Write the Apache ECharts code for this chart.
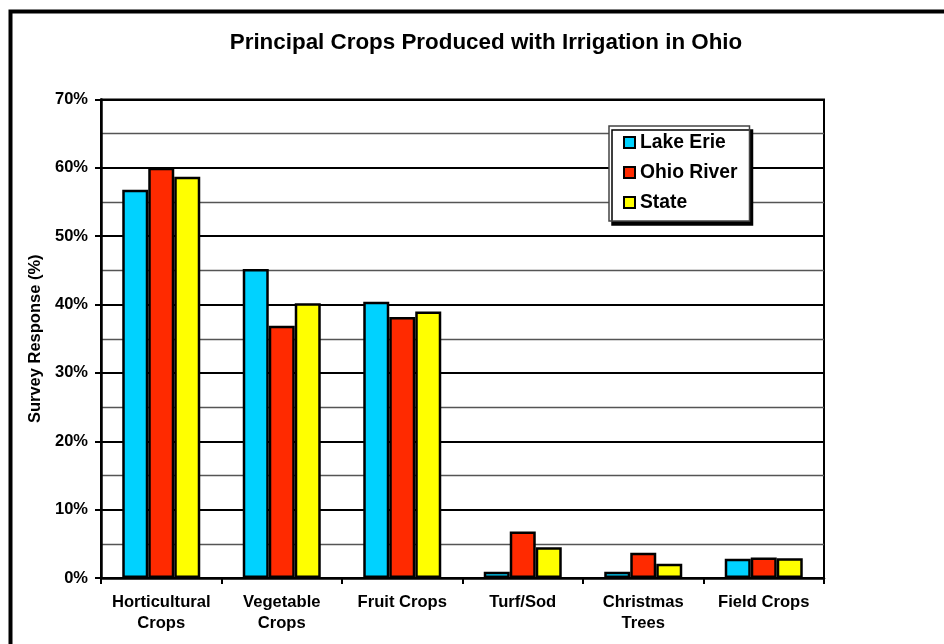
<!DOCTYPE html>
<html>
<head>
<meta charset="utf-8">
<script src="https://cdn.jsdelivr.net/npm/echarts@6/dist/echarts.min.js"></script>
<style>
  html, body { margin: 0; padding: 0; background: #fff; }
  #chart { width: 944px; height: 644px; }
</style>
</head>
<body>
<div id="chart"></div>
<script>
// Crop categories (two-line labels where the text wraps)
const categories = ['Horticultural\nCrops', 'Vegetable\nCrops', 'Fruit Crops', 'Turf/Sod', 'Christmas\nTrees', 'Field Crops'];
// Survey response shares (%) by region
const lakeErie  = [56.8, 45.2, 40.4, 0.9, 0.9, 2.8];
const ohioRiver = [60.0, 36.9, 38.2, 6.8, 3.7, 3.0];
const stateAll  = [58.7, 40.2, 39.0, 4.5, 2.1, 2.9];
const seriesNames = ['Lake Erie', 'Ohio River', 'State'];
const yTicks = [0, 10, 20, 30, 40, 50, 60, 70];

const FONT = '"Liberation Sans", Arial, sans-serif';
const colors = ['#00D2FF', '#FF2A00', '#FFFF00'];

const chart = echarts.init(document.getElementById('chart'), null, { renderer: 'canvas' });

function barSeries(name, data, color) {
  return {
    name: name,
    type: 'bar',
    data: data,
    barWidth: 26,
    barGap: '0%',
    itemStyle: { color: color, borderColor: '#000', borderWidth: 2.5 },
    emphasis: { disabled: true }
  };
}

chart.setOption({
  animation: false,
  backgroundColor: '#fff',
  title: {
    text: 'Principal Crops Produced with Irrigation in Ohio',
    left: 481,
    textAlign: 'center',
    top: 27,
    textStyle: { fontFamily: FONT, fontSize: 22.4, fontWeight: 'bold', color: '#000' }
  },
  legend: {
    orient: 'vertical',
    left: 609,
    top: 126,
    data: seriesNames,
    icon: 'rect',
    itemWidth: 11,
    itemHeight: 11,
    itemGap: 11,
    padding: [7, 12, 9, 14],
    backgroundColor: '#fff',
    borderColor: '#444',
    borderWidth: 1.5,
    borderRadius: 0,
    shadowColor: '#000',
    shadowBlur: 0.01,
    shadowOffsetX: 3,
    shadowOffsetY: 4,
    itemStyle: { borderColor: '#000', borderWidth: 2 },
    textStyle: { fontFamily: FONT, fontSize: 19.3, fontWeight: 'bold', color: '#000', lineHeight: 19 },
    selectedMode: false
  },
  grid: {
    left: 101,
    top: 99.5,
    right: 120,
    bottom: 66,
    show: true,
    borderColor: '#000',
    borderWidth: 2
  },
  xAxis: {
    type: 'category',
    data: categories,
    axisLine: { lineStyle: { color: '#000', width: 2.5 } },
    axisTick: { show: true, length: 6, lineStyle: { color: '#000', width: 2 } },
    axisLabel: {
      margin: 14,
      fontFamily: FONT, fontSize: 16.6, fontWeight: 'bold', color: '#000',
      lineHeight: 21, interval: 0
    }
  },
  yAxis: {
    type: 'value',
    min: yTicks[0],
    max: yTicks[yTicks.length - 1],
    interval: 10,
    name: 'Survey Response (%)',
    nameLocation: 'middle',
    nameRotate: 90,
    nameGap: 53,
    nameTextStyle: { fontFamily: FONT, fontSize: 16.5, fontWeight: 'bold', color: '#000' },
    axisLine: { show: true, lineStyle: { color: '#000', width: 2.5 } },
    axisTick: { show: true, length: 6, lineStyle: { color: '#000', width: 2 } },
    axisLabel: {
      margin: 13,
      formatter: '{value}%',
      fontFamily: FONT, fontSize: 16.5, fontWeight: 'bold', color: '#000'
    },
    splitLine: { show: true, lineStyle: { color: '#000', width: 2 } },
    minorTick: { show: false, splitNumber: 2 },
    minorSplitLine: { show: true, lineStyle: { color: '#555', width: 1.4 } }
  },
  graphic: [{
    // Outer frame of the figure (runs off the right and bottom edges)
    type: 'rect',
    left: 8,
    top: 9,
    shape: { x: 0, y: 0, width: 1000, height: 1000 },
    style: { fill: 'none', stroke: '#000', lineWidth: 4 },
    silent: true,
    z: 10
  }],
  series: [
    barSeries(seriesNames[0], lakeErie, colors[0]),
    barSeries(seriesNames[1], ohioRiver, colors[1]),
    barSeries(seriesNames[2], stateAll, colors[2])
  ]
});
</script>
</body>
</html>
